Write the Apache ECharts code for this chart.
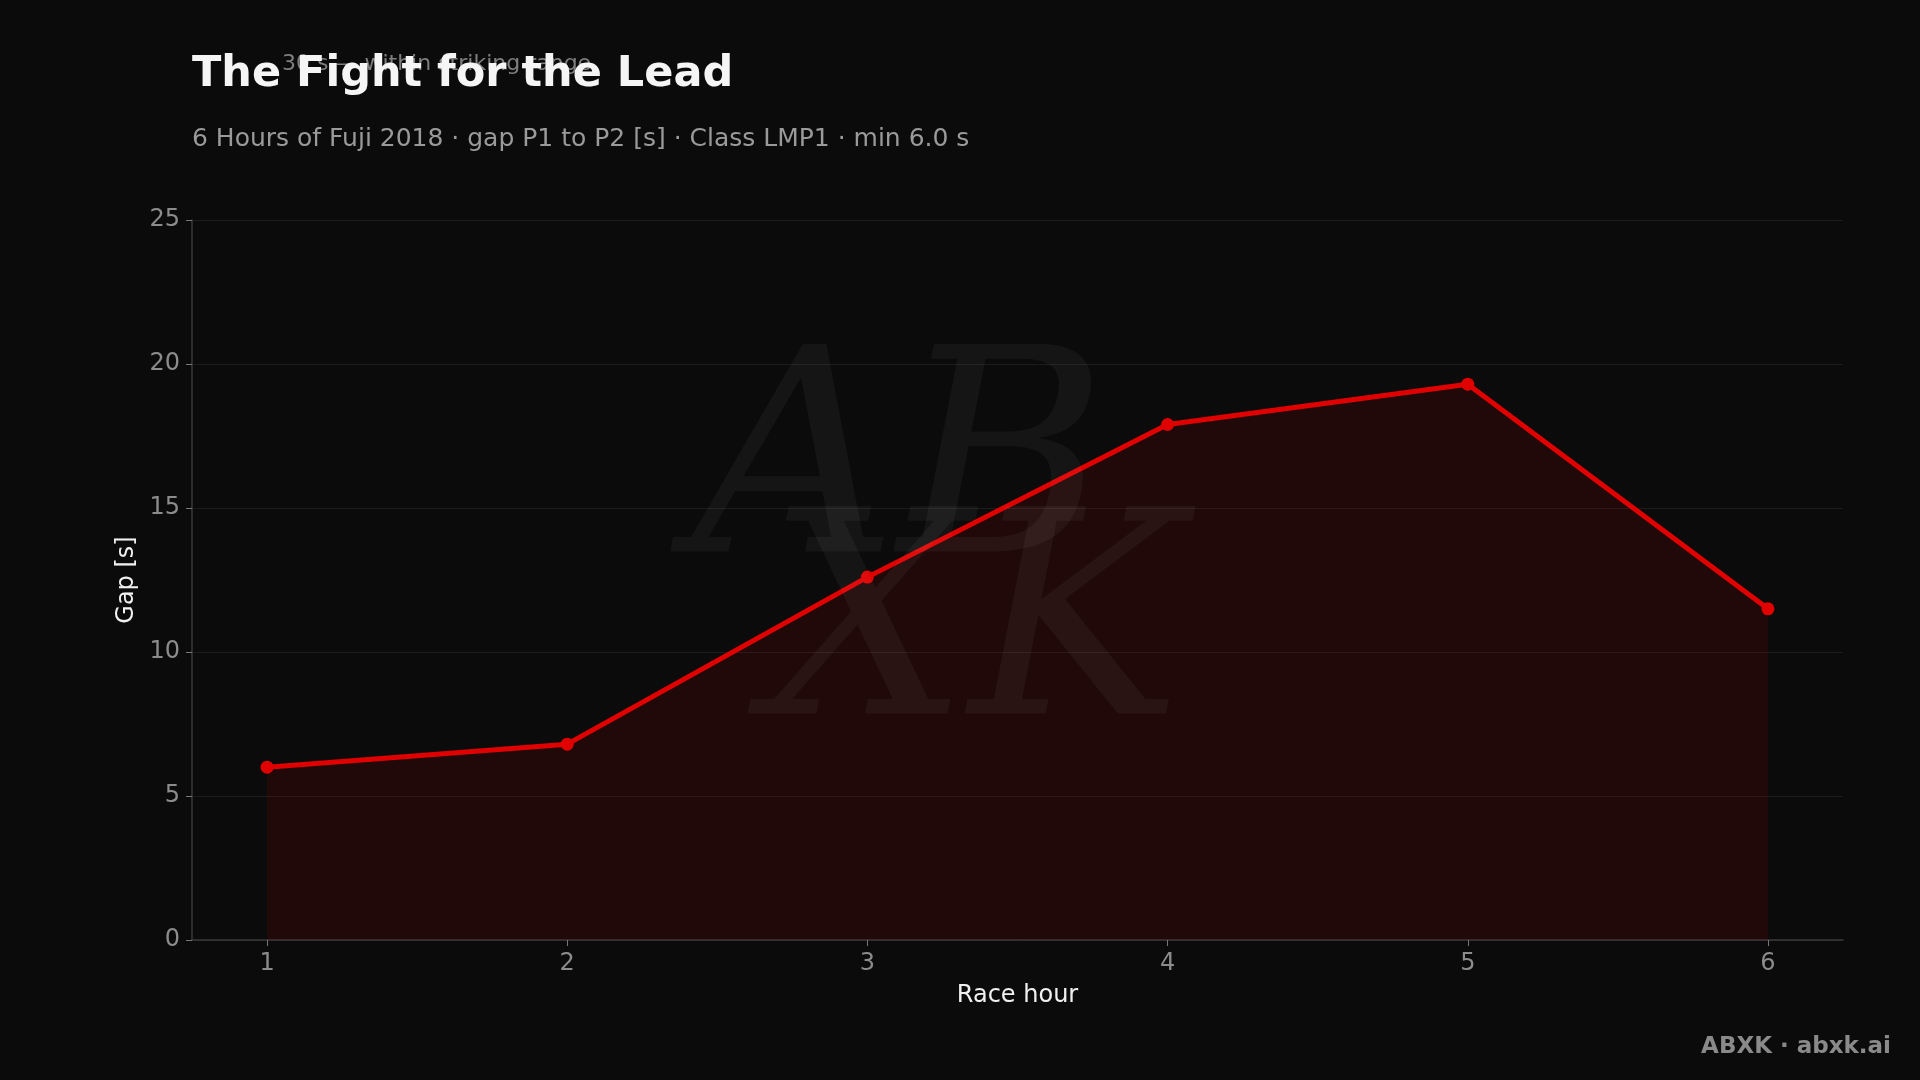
<!DOCTYPE html>
<html>
<head>
<meta charset="utf-8">
<style>
  html, body { margin: 0; padding: 0; background: #0b0b0b; }
  #chart { width: 1920px; height: 1080px; }
</style>
<script src="https://cdn.jsdelivr.net/npm/echarts@6/dist/echarts.min.js"></script>
</head>
<body>
<div id="chart"></div>
<script>
// ---- data ----
const hours = [1, 2, 3, 4, 5, 6];
const gaps = [6.0, 6.8, 12.6, 17.9, 19.3, 11.5];
const yTicks = [0, 5, 10, 15, 20, 25];
const refValue = 30;
const refLabel = '30 s — within striking range';
const titleText = 'The Fight for the Lead';
const subtitleText = '6 Hours of Fuji 2018 · gap P1 to P2 [s] · Class LMP1 · min 6.0 s';
const footerText = 'ABXK · abxk.ai';

const FONT = 'DejaVu Sans';
const chart = echarts.init(document.getElementById('chart'), null, { renderer: 'canvas' });

const option = {
  backgroundColor: '#0b0b0b',
  animation: false,
  textStyle: { fontFamily: FONT },
  title: [
    {
      text: titleText, left: 192, top: 53, z: 10, padding: 0,
      textStyle: { color: '#f5f5f5', fontSize: 43, fontWeight: 'bold', fontFamily: FONT, lineHeight: 44 }
    },
    {
      text: subtitleText, left: 192, top: 125, z: 10, padding: 0,
      textStyle: { color: '#9a9a9a', fontSize: 25, fontWeight: 'normal', fontFamily: FONT, lineHeight: 28 }
    },
    {
      text: footerText, right: 29, top: 1034, z: 10, padding: 0,
      textStyle: { color: '#8a8a8a', fontSize: 23, fontWeight: 'bold', fontFamily: FONT, lineHeight: 26 }
    }
  ],
  grid: { left: 192, right: 77, top: 220, bottom: 140, containLabel: false },
  xAxis: {
    type: 'value', min: 0.75, max: 6.25,
    name: 'Race hour', nameLocation: 'middle', nameGap: 44,
    nameTextStyle: { color: '#f0f0f0', fontSize: 24, fontFamily: FONT },
    axisLine: { show: true, lineStyle: { color: '#3a3a3a', width: 1.5 } },
    axisTick: { show: true, customValues: hours, length: 6, lineStyle: { color: '#777' } },
    axisLabel: { customValues: hours, color: '#8c8c8c', fontSize: 24, margin: 12, fontFamily: FONT },
    splitLine: { show: false }
  },
  yAxis: {
    type: 'value', min: 0, max: 25, interval: 5,
    name: 'Gap [s]', nameLocation: 'middle', nameGap: 50, nameRotate: 90,
    nameTextStyle: { color: '#f0f0f0', fontSize: 24, fontFamily: FONT },
    axisLine: { show: true, lineStyle: { color: '#3a3a3a', width: 1.5 } },
    axisTick: { show: true, length: 6, lineStyle: { color: '#777' } },
    axisLabel: { color: '#8c8c8c', fontSize: 24, margin: 12, fontFamily: FONT, padding: [7, 0, 0, 0] },
    splitLine: { show: true, lineStyle: { color: '#1c1c1c', width: 1 } }
  },
  series: [
    {
      type: 'line',
      data: hours.map((h, i) => [h, gaps[i]]),
      symbol: 'circle', symbolSize: 13,
      lineStyle: { color: '#e00000', width: 5 },
      itemStyle: { color: '#e00000' },
      areaStyle: { color: 'rgba(230,0,0,0.15)' },
      z: 3
    }
  ]
};
chart.setOption(option);

// reference label placed through the y scale
const refY = chart.convertToPixel({ yAxisIndex: 0 }, refValue);
chart.setOption({
  graphic: [
    {
      type: 'text', left: 282, top: refY - 23, z: 1, silent: true,
      style: { text: refLabel, fill: '#7f7f7f', fontSize: 22, fontFamily: FONT }
    },
    {
      type: 'text', left: 692, top: 335, z: 50, silent: true,
      style: { text: 'AB', fill: 'rgba(255,255,255,0.045)', fontSize: 285, fontStyle: 'italic', fontFamily: 'DejaVu Serif' }
    },
    {
      type: 'text', left: 766, top: 497, z: 50, silent: true,
      style: { text: 'XK', fill: 'rgba(255,255,255,0.045)', fontSize: 285, fontStyle: 'italic', fontFamily: 'DejaVu Serif' }
    }
  ]
});
</script>
</body>
</html>
